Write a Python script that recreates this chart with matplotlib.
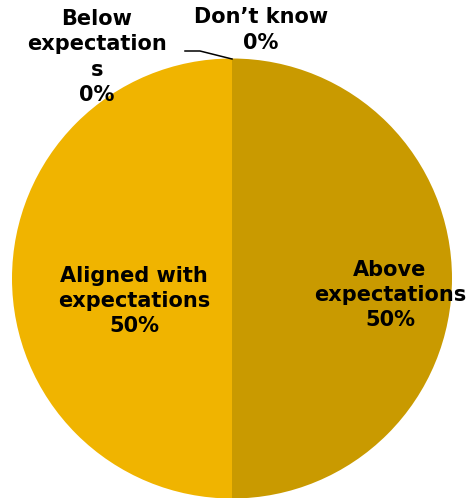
import matplotlib
matplotlib.use("Agg")
import matplotlib.pyplot as plt

# Survey result shares
categories = ["Above\nexpectations", "Aligned with\nexpectations", "Below\nexpectation\ns", "Don\u2019t know"]
shares = [50, 50, 0, 0]
colors = ["#C99A00", "#F0B400", "#A0A0A0", "#707070"]

W, H = 468, 498
fig = plt.figure(figsize=(W / 100, H / 100), dpi=100)

cx, cy, r = 232, 278.5, 220  # pixel centre and radius of the pie
ax = fig.add_axes([(cx - r) / W, (H - cy - r) / H, 2 * r / W, 2 * r / H])
ax.pie(shares, colors=colors, startangle=90, counterclock=False, radius=1,
       wedgeprops=dict(linewidth=0))
ax.set_xlim(-1, 1)
ax.set_ylim(-1, 1)
ax.axis("off")


def to_data(px, py):
    return (px - cx) / r, (cy - py) / r


# label centres in pixel coordinates (x, y of the middle of the block)
label_pos = [(390, 295), (134, 301), (97, 57), (261, 30)]

for cat, val, (px, py) in zip(categories, shares, label_pos):
    x, y = to_data(px, py)
    ax.text(x, y, f"{cat}\n{val:.0f}%", ha="center", va="center",
            fontsize=15, fontweight="bold", family="DejaVu Sans",
            linespacing=1.33, color="black", clip_on=False)

# leader line for the zero-width slice at the top
pts = [to_data(232, 59), to_data(200, 51), to_data(185, 51)]
ax.plot([p[0] for p in pts], [p[1] for p in pts], color="black",
        linewidth=1.1, clip_on=False)

fig.savefig("out.png", dpi=100)
